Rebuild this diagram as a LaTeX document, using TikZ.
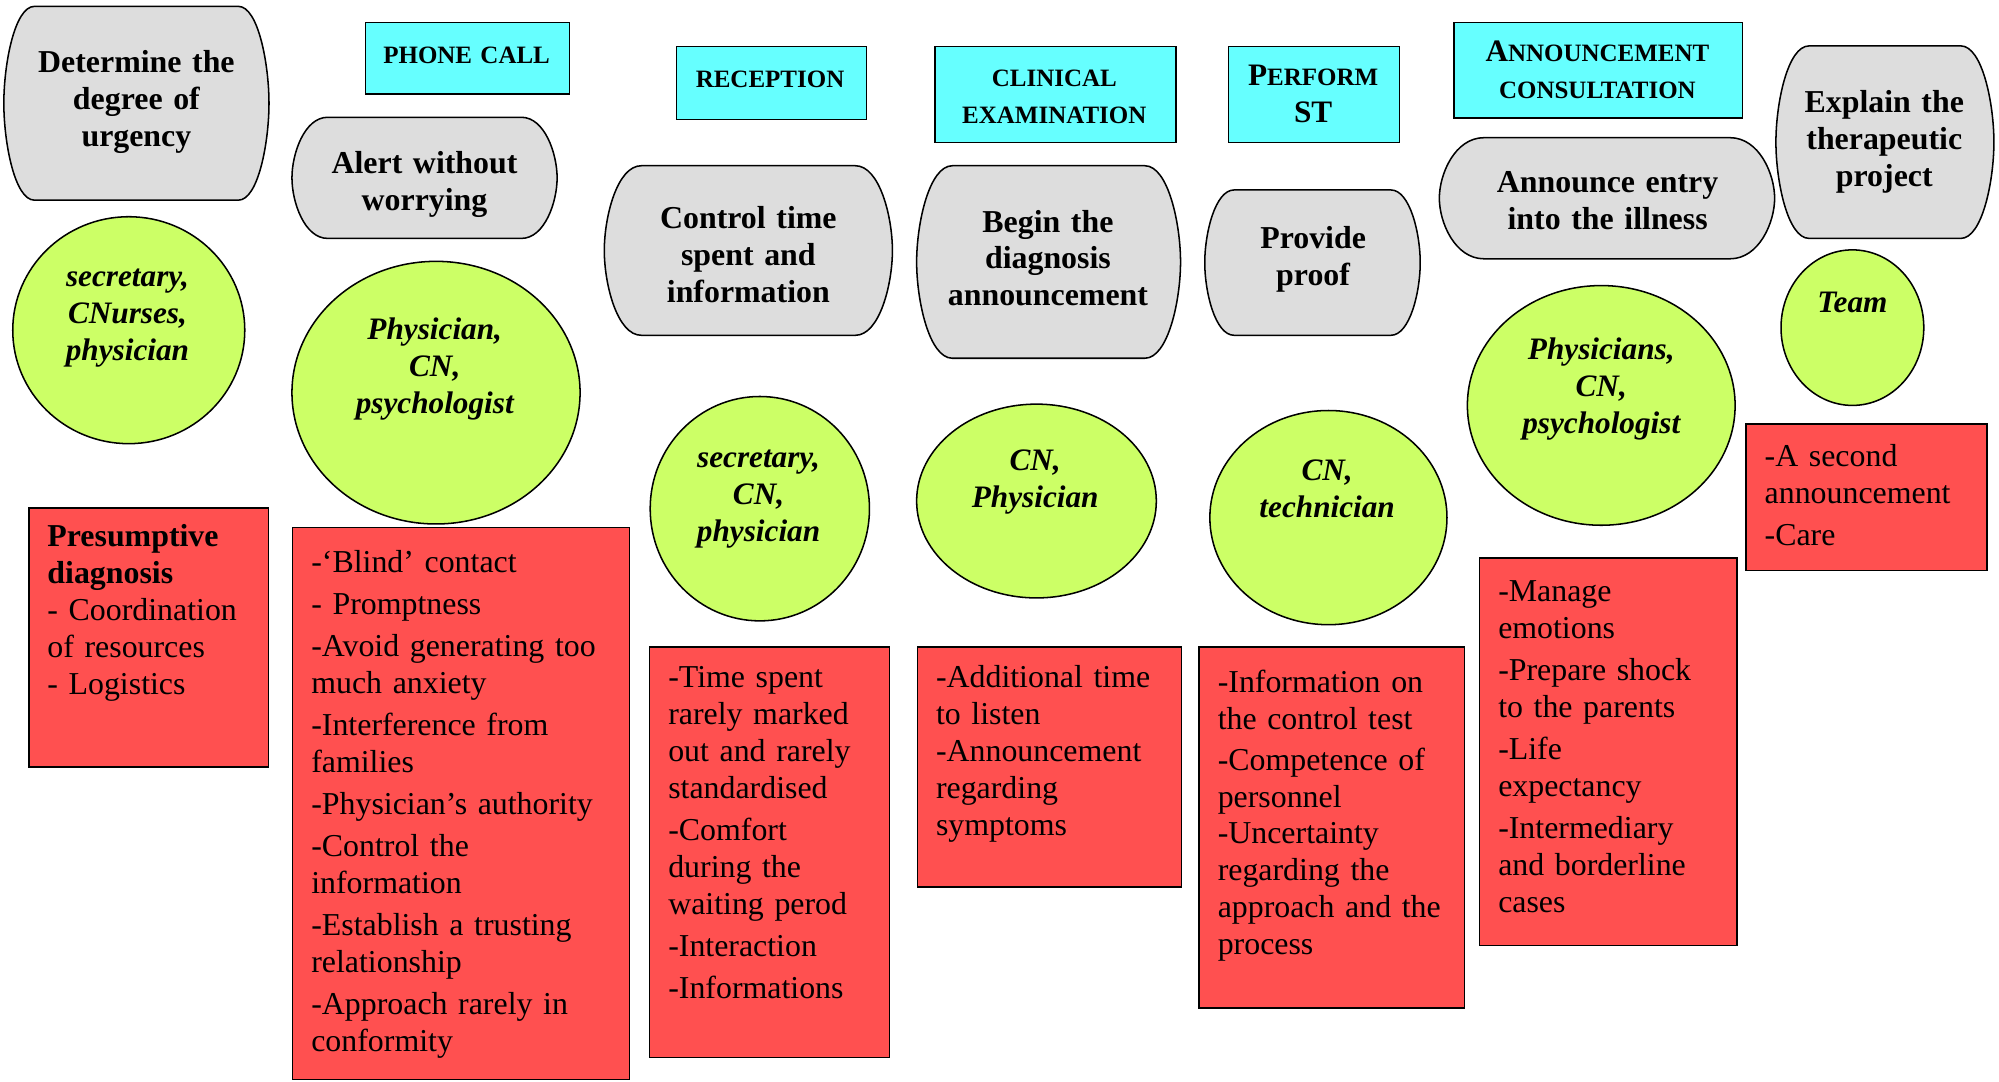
\documentclass[tikz,border=0pt]{standalone}
\usepackage{fontspec}
\setmainfont{Liberation Serif}
\usetikzlibrary{shapes.geometric}
\definecolor{greyfill}{RGB}{221,221,221}
\definecolor{cyanfill}{RGB}{102,255,255}
\definecolor{greenfill}{RGB}{204,255,102}
\definecolor{redfill}{RGB}{255,80,80}
\newcommand\gshape[6]{%
 \path[gbox] ({#2+#6},#3) -- ({#4-#6},#3) .. controls ({#4-0.35*#6},#3) and (#4,{#3+0.3*(#5-#3)}) .. (#4,{(#3+#5)/2}) .. controls (#4,{#5-0.3*(#5-#3)}) and ({#4-0.35*#6},#5) .. ({#4-#6},#5) -- ({#2+#6},#5) .. controls ({#2+0.35*#6},#5) and (#2,{#5-0.3*(#5-#3)}) .. (#2,{(#3+#5)/2}) .. controls (#2,{#3+0.3*(#5-#3)}) and ({#2+0.35*#6},#3) .. cycle;
 \coordinate (#1) at ({(#2+#4)/2},{(#3+#5)/2});
}
\newcommand\BigLetter[1]{{\fontsize{24.5}{29}\selectfont #1}}
\tikzset{
 gbox/.style={fill=greyfill, draw=black, line width=1.2pt},
 cbox/.style={draw=black, fill=cyanfill, line width=1.2pt, rectangle, inner sep=0, anchor=north west},
 ebox/.style={draw=black, fill=greenfill, line width=1.2pt, ellipse, inner sep=0},
 rbox/.style={draw=black, fill=redfill, line width=1.2pt, rectangle, inner sep=0, anchor=north west},
 gtext/.style={anchor=base, align=center, text width=260pt, inner sep=0, font=\fontsize{25}{29}\selectfont\bfseries},
 etext/.style={anchor=base, align=center, text width=220pt, inner sep=0, font=\fontsize{24.5}{29}\selectfont\bfseries\itshape},
 ctext/.style={anchor=base, align=center, text width=240pt, inner sep=0, font=\fontsize{19.6}{29}\selectfont\bfseries},
 rtext/.style={anchor=base west, align=left, text width=300pt, inner sep=0, font=\fontsize{25}{29}\selectfont},
}
\begin{document}
\begin{tikzpicture}[x=1pt,y=-1pt]
\useasboundingbox (0,0) rectangle (1568,848);
% grey shapes
\gshape{g1}{3}{5}{211}{157}{24}
\node[gtext] (g1t) at (107,57) {Determine the\\degree of\\urgency};
\gshape{g2}{229}{92}{437}{187}{28}
\node[gtext] (g2t) at (333,136) {Alert without\\worrying};
\gshape{g3}{474}{130}{700}{263}{29}
\node[gtext] (g3t) at (587,179) {Control time\\spent and\\information};
\gshape{g4}{719}{130}{926}{281}{28}
\node[gtext] (g4t) at (822,182) {Begin the\\diagnosis\\announcement};
\gshape{g5}{945}{149}{1114}{263}{23}
\node[gtext] (g5t) at (1030,195) {Provide\\proof};
\gshape{g6}{1129}{108}{1392}{203}{35}
\node[gtext] (g6t) at (1261,151) {Announce entry\\into the illness};
\gshape{g7}{1393}{36}{1564}{187}{26}
\node[gtext] (g7t) at (1478,88) {Explain the\\therapeutic\\project};
% cyan boxes
\node[cbox, minimum width=160pt, minimum height=56pt] (c1) at (286,17) {};
\node[ctext] (c1t) at (366,50) {PHONE CALL};
\node[cbox, minimum width=149pt, minimum height=57pt] (c2) at (530,36) {};
\node[ctext] (c2t) at (604,69) {RECEPTION};
\node[cbox, minimum width=189pt, minimum height=75pt] (c3) at (733,36) {};
\node[ctext] (c3t) at (827,68) {CLINICAL\\EXAMINATION};
\node[cbox, minimum width=134pt, minimum height=75pt] (c4) at (963,36) {};
\node[ctext] (c4t) at (1030,67) {\BigLetter{P}ERFORM\\\BigLetter{ST}};
\node[cbox, minimum width=226pt, minimum height=75pt] (c5) at (1140,17) {};
\node[ctext] (c5t) at (1253,48) {\BigLetter{A}NNOUNCEMENT\\CONSULTATION};
% green ellipses
\node[ebox, minimum width=182pt, minimum height=178pt] (e1) at (101,259) {};
\node[etext] (e1t) at (100,225) {secretary,\\CNurses,\\physician};
\node[ebox, minimum width=226pt, minimum height=206pt] (e2) at (342,308) {};
\node[etext] (e2t) at (341,266) {Physician,\\CN,\\psychologist};
\node[ebox, minimum width=172pt, minimum height=176pt] (e3) at (596,399) {};
\node[etext] (e3t) at (595,367) {secretary,\\CN,\\physician};
\node[ebox, minimum width=188pt, minimum height=152pt] (e4) at (813,393) {};
\node[etext] (e4t) at (812,369) {CN,\\Physician};
\node[ebox, minimum width=186pt, minimum height=168pt] (e5) at (1042,406) {};
\node[etext] (e5t) at (1041,377) {CN,\\technician};
\node[ebox, minimum width=210pt, minimum height=188pt] (e6) at (1256,318) {};
\node[etext] (e6t) at (1256,282) {Physicians,\\CN,\\psychologist};
\node[ebox, minimum width=112pt, minimum height=122pt] (e7) at (1453,257) {};
\node[etext] (e7t) at (1453,245) {Team};
% red boxes
\node[rbox, minimum width=188pt, minimum height=203pt] (r1) at (22,398) {};
\node[rtext] (r1t) at (37,429) {\textbf{Presumptive}\\\textbf{diagnosis}\\- Coordination\\of resources\\- Logistics};
\node[rbox, minimum width=264pt, minimum height=433pt] (r2) at (229,413) {};
\node[rtext] (r2t) at (244,449) {-‘Blind’ contact\\[4pt]- Promptness\\[4pt]-Avoid generating too\\much anxiety\\[4pt]-Interference from\\families\\[4pt]-Physician’s authority\\[4pt]-Control the\\information\\[4pt]-Establish a trusting\\relationship\\[4pt]-Approach rarely in\\conformity};
\node[rbox, minimum width=188pt, minimum height=322pt] (r3) at (509,507) {};
\node[rtext] (r3t) at (524,539) {-Time spent\\rarely marked\\out and rarely\\standardised\\[4pt]-Comfort\\during the\\waiting perod\\[4pt]-Interaction\\[4pt]-Informations};
\node[rbox, minimum width=207pt, minimum height=188pt] (r4) at (719,507) {};
\node[rtext] (r4t) at (734,539) {-Additional time\\to listen\\-Announcement\\regarding\\symptoms};
\node[rbox, minimum width=208pt, minimum height=283pt] (r5) at (940,507) {};
\node[rtext] (r5t) at (955,543) {-Information on\\the control test\\[3pt]-Competence of\\personnel\\-Uncertainty\\regarding the\\approach and the\\process};
\node[rbox, minimum width=202pt, minimum height=304pt] (r6) at (1160,437) {};
\node[rtext] (r6t) at (1175,472) {-Manage\\emotions\\[4pt]-Prepare shock\\to the parents\\[4pt]-Life\\expectancy\\[4pt]-Intermediary\\and borderline\\cases};
\node[rbox, minimum width=189pt, minimum height=115pt] (r7) at (1369,332) {};
\node[rtext] (r7t) at (1384,366) {-A second\\announcement\\[4pt]-Care};
\end{tikzpicture}
\end{document}
